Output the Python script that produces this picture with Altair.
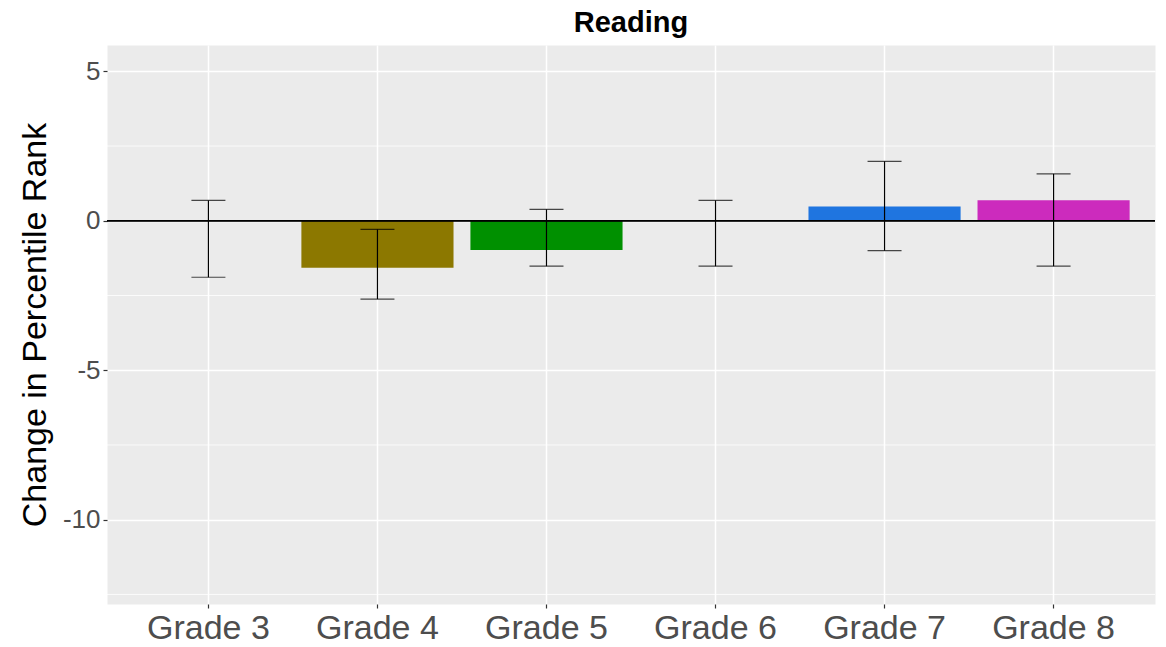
import altair as alt
import pandas as pd

# Year-over-year change in reading percentile rank, by grade
grades = ["Grade 3", "Grade 4", "Grade 5", "Grade 6", "Grade 7", "Grade 8"]
change = [0.0, -1.57, -0.98, 0.0, 0.48, 0.69]
ci_low = [-1.89, -2.62, -1.52, -1.52, -1.00, -1.52]
ci_high = [0.68, -0.29, 0.38, 0.68, 1.99, 1.57]
bar_colors = ["#F8766D", "#8C7800", "#009000", "#00BFC4", "#1F75E0", "#CC2BBD"]

y_ticks = [5, 0, -5, -10]
minor_grid = [2.5, -2.5, -7.5, -12.5]

df = pd.DataFrame({"grade": grades, "change": change,
                   "lo": ci_low, "hi": ci_high})
minor_df = pd.DataFrame({"v": minor_grid})

FONT = "Liberation Sans"

x = alt.X("grade:N", sort=grades, title=None,
          scale=alt.Scale(paddingInner=0.1, paddingOuter=0.15),
          axis=alt.Axis(labelAngle=0, labelFontSize=34, labelColor="#4D4D4D",
                        labelFont=FONT, labelPadding=3, tickSize=4,
                        tickColor="#333333", tickWidth=1.2, grid=True,
                        bandPosition=0.5))
y_scale = alt.Scale(domain=[-12.82, 5.88], nice=False, zero=False)

bars = alt.Chart(df).mark_bar().encode(
    x=x,
    y=alt.Y("change:Q", scale=y_scale, title="Change in Percentile Rank",
            axis=alt.Axis(values=y_ticks, labelExpr="'' + datum.value",
                          labelFontSize=26, labelColor="#4D4D4D", labelFont=FONT,
                          labelPadding=3, tickSize=4, tickColor="#333333",
                          tickWidth=1.2, titleFontSize=34, titleFont=FONT,
                          titleFontWeight="normal", titleColor="black",
                          titleX=-55, titleBaseline="bottom")),
    y2=alt.datum(0),
    color=alt.Color("grade:N", sort=grades,
                    scale=alt.Scale(domain=grades, range=bar_colors), legend=None),
)

minor = alt.Chart(minor_df).mark_rule(color="white", strokeWidth=0.8).encode(
    y=alt.Y("v:Q", scale=y_scale)
)

zero_line = alt.Chart(df).mark_rule(color="black", strokeWidth=1.1).encode(
    y=alt.datum(0)
)

whiskers = alt.Chart(df).mark_rule(color="black", strokeWidth=1.2).encode(
    x=alt.X("grade:N", sort=grades),
    y=alt.Y("lo:Q", scale=y_scale),
    y2="hi:Q",
)

caps_lo = alt.Chart(df).mark_tick(color="black", size=34, thickness=1.2,
                                  orient="horizontal").encode(
    x=alt.X("grade:N", sort=grades), y=alt.Y("lo:Q", scale=y_scale))
caps_hi = alt.Chart(df).mark_tick(color="black", size=34, thickness=1.2,
                                  orient="horizontal").encode(
    x=alt.X("grade:N", sort=grades), y=alt.Y("hi:Q", scale=y_scale))

chart = alt.layer(minor, bars, zero_line, whiskers, caps_lo, caps_hi).properties(
    width=1048, height=559,
    background="white",
    title=alt.TitleParams("Reading", fontSize=29, fontWeight="bold", font=FONT,
                          anchor="middle", offset=7, color="black"),
    autosize=alt.AutoSizeParams(type="none"),
    padding={"left": 107, "top": 45, "right": 11, "bottom": 43},
).configure_view(
    fill="#EBEBEB", stroke="transparent"
).configure_axis(
    domain=False, gridColor="white", gridWidth=1.5
)

chart.save("out.html", embed_options={"renderer": "svg", "actions": False})
